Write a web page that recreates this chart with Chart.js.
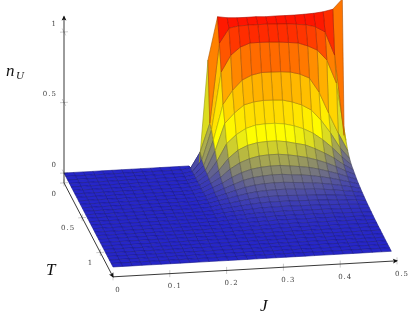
<!DOCTYPE html>
<html>
<head>
<meta charset="utf-8">
<style>
  html, body { margin: 0; padding: 0; background: #fff; }
  canvas { display: block; }
</style>
<script src="https://cdn.jsdelivr.net/npm/chart.js@4/dist/chart.umd.js"></script>
</head>
<body>
<canvas id="grafico" width="415" height="317"></canvas>
<script>
// J along the columns, T along the rows
const jValues = [0, 0.0169, 0.0338, 0.0507, 0.0676, 0.0845, 0.1014, 0.1183, 0.1352, 0.1521,
  0.169, 0.1859, 0.2028, 0.2197, 0.2366, 0.2535, 0.2704, 0.2873, 0.3042, 0.3211,
  0.338, 0.3549, 0.3718, 0.3887, 0.4056, 0.4225, 0.4394, 0.4563, 0.4732, 0.49];
const tValues = [0, 0.05, 0.1, 0.15, 0.2, 0.25, 0.3, 0.35, 0.4, 0.45, 0.5, 0.55, 0.6, 0.65,
  0.7, 0.75, 0.8, 0.85, 0.9, 0.95, 1, 1.05, 1.1, 1.15, 1.2, 1.25, 1.3, 1.35];

// n_U, one row for each T
const nU = [
  [0,0,0,0,0,0,0,0,0,0,0,0,0,0, -0.066,0.744,1.047,1.036,1.032,1.031,1.032,1.028,1.029,1.028,1.028,1.03,1.033,1.04,1.054,1.123],
  [0,0,0,0,0,0,0,0,0,0,0,0,0,0.01, 0.12,0.32,0.885,0.986,0.998,1,1,1,0.997,0.994,0.987,0.979,0.962,0.923,0.754,0.18],
  [0,0,0,0,0,0,0,0,0,0,0,0,0,0.01, 0.09,0.3,0.705,0.82,0.874,0.899,0.899,0.898,0.894,0.887,0.88,0.855,0.822,0.748,0.58,0.17],
  [0,0,0,0,0,0,0,0,0,0,0,0,0,0.01, 0.075,0.25,0.5,0.597,0.665,0.696,0.71,0.71,0.708,0.702,0.684,0.652,0.549,0.396,0.25,0.12],
  [0,0,0,0,0,0,0,0,0,0,0,0,0,0.012, 0.065,0.2,0.39,0.46,0.513,0.53,0.537,0.536,0.532,0.515,0.49,0.45,0.375,0.28,0.17,0.09],
  [0,0,0,0,0,0,0,0,0,0,0,0,0.002,0.012, 0.06,0.15,0.27,0.33,0.37,0.39,0.395,0.395,0.387,0.37,0.345,0.31,0.26,0.2,0.13,0.07],
  [0,0,0,0,0,0,0,0,0,0,0,0,0.002,0.012, 0.05,0.11,0.19,0.245,0.275,0.29,0.295,0.295,0.286,0.27,0.255,0.225,0.19,0.15,0.1,0.06],
  [0,0,0,0,0,0,0,0,0,0,0,0,0.002,0.012, 0.045,0.085,0.14,0.18,0.205,0.22,0.225,0.225,0.217,0.205,0.19,0.17,0.145,0.115,0.08,0.05],
  [0,0,0,0,0,0,0,0,0,0,0,0,0.002,0.01, 0.04,0.068,0.105,0.135,0.155,0.165,0.17,0.17,0.163,0.155,0.145,0.13,0.11,0.09,0.065,0.04],
  [0,0,0,0,0,0,0,0,0,0,0,0,0.002,0.008, 0.03,0.055,0.08,0.105,0.12,0.128,0.132,0.132,0.125,0.12,0.112,0.1,0.087,0.07,0.052,0.033],
  [0,0,0,0,0,0,0,0,0,0,0,0,0.001,0.007, 0.025,0.043,0.062,0.08,0.092,0.098,0.1,0.1,0.095,0.09,0.085,0.077,0.067,0.055,0.042,0.027],
  [0,0,0,0,0,0,0,0,0,0,0,0,0.001,0.006, 0.02,0.034,0.048,0.06,0.07,0.074,0.076,0.076,0.072,0.068,0.065,0.06,0.052,0.043,0.034,0.022],
  [0,0,0,0,0,0,0,0,0,0,0,0,0.001,0.004, 0.016,0.025,0.035,0.045,0.052,0.056,0.057,0.056,0.053,0.05,0.048,0.045,0.04,0.034,0.027,0.018],
  [0,0,0,0,0,0,0,0,0,0,0,0,0,0.003, 0.012,0.019,0.026,0.034,0.039,0.042,0.042,0.042,0.04,0.038,0.037,0.034,0.031,0.026,0.021,0.014],
  [0,0,0,0,0,0,0,0,0,0,0,0,0,0.002, 0.009,0.014,0.019,0.025,0.029,0.031,0.031,0.031,0.029,0.028,0.027,0.025,0.023,0.02,0.016,0.011],
  [0,0,0,0,0,0,0,0,0,0,0,0,0,0.001, 0.006,0.01,0.014,0.018,0.021,0.022,0.023,0.023,0.021,0.021,0.02,0.019,0.017,0.015,0.012,0.009],
  [0,0,0,0,0,0,0,0,0,0,0,0,0,0, 0.004,0.007,0.01,0.013,0.015,0.016,0.017,0.017,0.016,0.015,0.015,0.014,0.013,0.011,0.009,0.007],
  [0,0,0,0,0,0,0,0,0,0,0,0,0,0, 0.002,0.005,0.007,0.009,0.011,0.012,0.012,0.012,0.011,0.011,0.011,0.01,0.009,0.008,0.007,0.005],
  [0,0,0,0,0,0,0,0,0,0,0,0,0,0, 0.001,0.003,0.005,0.006,0.008,0.008,0.009,0.009,0.008,0.008,0.008,0.007,0.007,0.006,0.005,0.004],
  [0,0,0,0,0,0,0,0,0,0,0,0,0,0, 0.001,0.002,0.003,0.004,0.005,0.006,0.006,0.006,0.006,0.006,0.005,0.005,0.005,0.004,0.004,0.003],
  [0,0,0,0,0,0,0,0,0,0,0,0,0,0, 0,0.001,0.002,0.003,0.004,0.004,0.004,0.004,0.004,0.004,0.004,0.004,0.003,0.003,0.003,0.002],
  [0,0,0,0,0,0,0,0,0,0,0,0,0,0, 0,0.001,0.001,0.002,0.002,0.003,0.003,0.003,0.003,0.003,0.003,0.002,0.002,0.002,0.002,0.002],
  [0,0,0,0,0,0,0,0,0,0,0,0,0,0, 0,0,0.001,0.001,0.002,0.002,0.002,0.002,0.002,0.002,0.002,0.002,0.002,0.001,0.001,0.001],
  [0,0,0,0,0,0,0,0,0,0,0,0,0,0, 0,0,0.001,0.001,0.001,0.001,0.001,0.001,0.001,0.001,0.001,0.001,0.001,0.001,0.001,0.001],
  [0,0,0,0,0,0,0,0,0,0,0,0,0,0, 0,0,0,0.001,0.001,0.001,0.001,0.001,0.001,0.001,0.001,0.001,0.001,0.001,0,0],
  [0,0,0,0,0,0,0,0,0,0,0,0,0,0, 0,0,0,0,0,0,0,0,0,0,0,0,0,0,0,0],
  [0,0,0,0,0,0,0,0,0,0,0,0,0,0, 0,0,0,0,0,0,0,0,0,0,0,0,0,0,0,0],
  [0,0,0,0,0,0,0,0,0,0,0,0,0,0, 0,0,0,0,0,0,0,0,0,0,0,0,0,0,0,0]
];

const jTicks = [0, 0.1, 0.2, 0.3, 0.4, 0.5];
const jTickLabels = ['0', '0.1', '0.2', '0.3', '0.4', '0.5'];
const tTicks = [0, 0.5, 1];
const tTickLabels = ['0', '0.5', '1'];
const zTicks = [0, 0.5, 1];
const zTickLabels = ['0', '0.5', '1'];

// colormap stops
const mapaPos = [0, 0.333, 0.667, 1];
const mapaCor = [[38, 38, 200], [255, 255, 0], [255, 165, 0], [255, 20, 0]];

const jMax = 0.5, tMax = 1.35, zMin = -0.07, zMax = 1.11;

// the 3d view, J T n_U to the x y of the hidden scales
function projetar(j, t, n) {
  return {
    x: 64 + 568 * j + 36.3 * t,
    y: 173 - 32 * j + 69.6 * t - 141 * n
  };
}

function corDe(v, fator) {
  v = Math.max(0, Math.min(1, v));
  var i = 0;
  while (i < mapaPos.length - 2 && v > mapaPos[i + 1]) i++;
  var f = (v - mapaPos[i]) / (mapaPos[i + 1] - mapaPos[i]);
  var a = mapaCor[i], b = mapaCor[i + 1];
  return 'rgb(' + Math.round((a[0] + (b[0] - a[0]) * f) * fator) + ',' +
    Math.round((a[1] + (b[1] - a[1]) * f) * fator) + ',' +
    Math.round((a[2] + (b[2] - a[2]) * f) * fator) + ')';
}

function linha(pontos, cor, largura) {
  return { data: pontos, showLine: true, fill: false, pointRadius: 0, borderColor: cor, borderWidth: largura };
}

var quads = [];
for (var r = 0; r < tValues.length - 1; r++) {
  for (var k = 0; k < jValues.length - 1; k++) {
    var media = (nU[r][k] + nU[r][k + 1] + nU[r + 1][k] + nU[r + 1][k + 1]) / 4;
    quads.push({
      frente: tValues[r] / tMax - 0.15 * jValues[k] / jMax + 0.3 * media,
      dataset: {
        data: [
          projetar(jValues[k], tValues[r], nU[r][k]),
          projetar(jValues[k + 1], tValues[r], nU[r][k + 1]),
          projetar(jValues[k + 1], tValues[r + 1], nU[r + 1][k + 1]),
          projetar(jValues[k], tValues[r + 1], nU[r + 1][k]),
          projetar(jValues[k], tValues[r], nU[r][k])
        ],
        showLine: true,
        fill: 'shape',
        tension: 0,
        pointRadius: 0,
        backgroundColor: corDe(media, 1),
        borderColor: corDe(media, 0.68),
        borderWidth: 0.6
      }
    });
  }
}
// chart.js paints the first dataset last
quads.sort(function(a, b) { return b.frente - a.frente; });

var eixos = [
  linha([projetar(0, 0, zMin), projetar(0, 0, zMax)], '#222', 0.9),
  linha([projetar(0, 0, zMin), projetar(0, tMax, zMin)], '#222', 0.9),
  linha([projetar(0, tMax, zMin), projetar(jMax, tMax, zMin)], '#222', 0.9)
];
var marcas = [];
var corMarca = 'rgba(0,0,0,0.35)';
jTicks.forEach(function(v) {
  marcas.push(linha([projetar(v, tMax, zMin - 0.025), projetar(v, tMax, zMin + 0.025)], corMarca, 0.6));
});
tTicks.forEach(function(v) {
  marcas.push(linha([projetar(-0.007, v, zMin), projetar(0.007, v, zMin)], corMarca, 0.6));
  marcas.push(linha([projetar(0, v, zMin - 0.025), projetar(0, v, zMin + 0.025)], corMarca, 0.6));
});
zTicks.forEach(function(v) {
  marcas.push(linha([projetar(-0.007, 0, v), projetar(0.007, 0, v)], corMarca, 0.6));
  marcas.push(linha([projetar(0, -0.05, v), projetar(0, 0.05, v)], corMarca, 0.6));
});

function seta(ctx, de, para) {
  var ang = Math.atan2(para.y - de.y, para.x - de.x);
  ctx.save();
  ctx.translate(para.x, para.y);
  ctx.rotate(ang);
  ctx.fillStyle = '#111';
  ctx.beginPath();
  ctx.moveTo(1, 0);
  ctx.lineTo(-4, -2.4);
  ctx.lineTo(-3, 0);
  ctx.lineTo(-4, 2.4);
  ctx.closePath();
  ctx.fill();
  ctx.restore();
}

var textos = {
  id: 'textos',
  afterDraw: function(chart) {
    var ctx = chart.ctx;
    var sx = chart.scales.x, sy = chart.scales.y;
    function px(p) { return { x: sx.getPixelForValue(p.x), y: sy.getPixelForValue(p.y) }; }

    seta(ctx, px(projetar(0, 0, zMin)), px(projetar(0, 0, zMax)));
    seta(ctx, px(projetar(0, 0, zMin)), px(projetar(0, tMax, zMin)));
    seta(ctx, px(projetar(0, tMax, zMin)), px(projetar(jMax, tMax, zMin)));

    ctx.save();
    ctx.fillStyle = '#444';
    ctx.textBaseline = 'middle';
    ctx.font = '7px "DejaVu Serif"';
    ctx.letterSpacing = '1px';
    ctx.textAlign = 'center';
    jTicks.forEach(function(v, i) {
      var p = px(projetar(v, tMax, zMin));
      ctx.fillText(jTickLabels[i], p.x + 5, p.y + 13);
    });
    ctx.textAlign = 'right';
    tTicks.forEach(function(v, i) {
      var p = px(projetar(0, v, zMin));
      ctx.fillText(tTickLabels[i], p.x - 7, p.y + 11);
    });
    zTicks.forEach(function(v, i) {
      var p = px(projetar(0, 0, v));
      ctx.fillText(zTickLabels[i], p.x - 7, p.y - 8);
    });
    ctx.letterSpacing = '0px';

    ctx.fillStyle = '#111';
    ctx.textAlign = 'left';
    ctx.textBaseline = 'alphabetic';
    ctx.font = 'italic 17px "Liberation Serif"';
    ctx.fillText('n', 6, 76);
    ctx.fillText('T', 46, 275);
    ctx.fillText('J', 260, 311);
    ctx.font = 'italic 11px "Liberation Serif"';
    ctx.fillText('U', 16, 79);
    ctx.restore();
  }
};

new Chart(document.getElementById('grafico'), {
  type: 'scatter',
  data: {
    datasets: eixos.concat(marcas, quads.map(function(q) { return q.dataset; }))
  },
  options: {
    responsive: false,
    animation: false,
    layout: { padding: 0 },
    scales: {
      x: { type: 'linear', min: 0, max: 415, display: false },
      y: { type: 'linear', min: 0, max: 317, reverse: true, display: false }
    },
    plugins: { legend: { display: false }, tooltip: { enabled: false }, title: { display: false } }
  },
  plugins: [textos]
});
</script>
</body>
</html>
